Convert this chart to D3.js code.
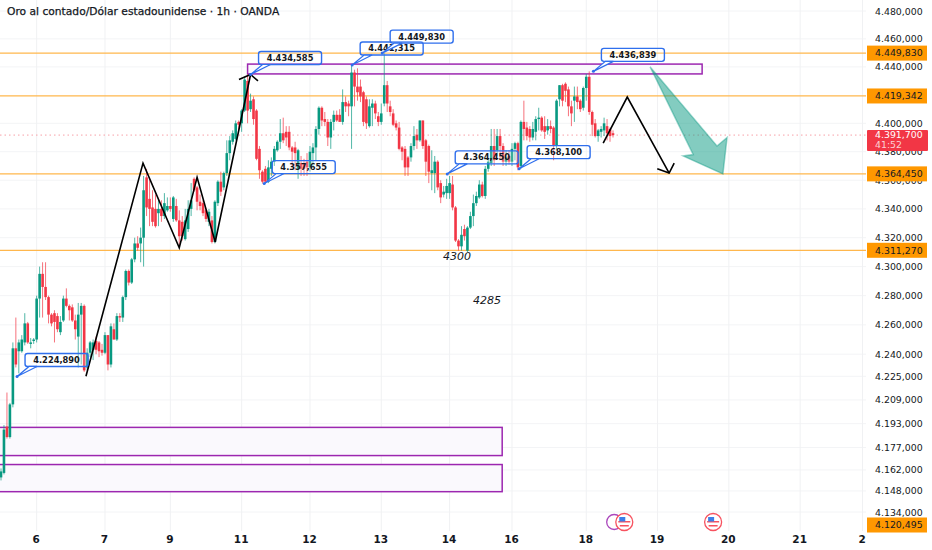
<!DOCTYPE html>
<html>
<head>
<meta charset="utf-8">
<script src="https://cdn.jsdelivr.net/npm/d3@7"></script>
<style>
  html, body { margin: 0; padding: 0; background: #fff; }
  text { font-family: 'DejaVu Sans', sans-serif; fill: #131722; }
</style>
</head>
<body>
<svg id="chart" width="932" height="550"></svg>
<script>
const opens = [
  4157,4160,4191,4184,4206,4244,4242,4242,4248,4261,
  4247,4249,4250,4278,4295,4286,4279,4267,4268,4266,
  4255,4263,4278,4273,4272,4263,4252,4267,4273,4231,
  4241,4243,4249,4248,4243,4241,4253,4233,4257,4250,
  4266,4265,4279,4297,4289,4305,4316,4316,4320,4362,
  4347,4341,4340,4337,4340,4335,4339,4342,4333,4342,
  4332,4331,4319,4326,4340,4361,4355,4345,4344,4339,
  4331,4332,4317,4344,4359,4355,4365,4379,4387,4389,
  4401,4400,4409,4430,4410,4417,4409,4382,4366,4368,
  4359,4368,4373,4381,4387,4393,4394,4394,4383,4383,
  4368,4372,4372,4373,4369,4379,4383,4396,4411,4403,
  4401,4390,4401,4406,4406,4401,4415,4414,4412,4436,
  4426,4426,4422,4417,4398,4411,4414,4405,4401,4414,
  4427,4412,4407,4400,4397,4383,4382,4376,4376,4384,
  4392,4388,4402,4388,4384,4365,4365,4373,4358,4350,
  4351,4351,4357,4341,4318,4314,4326,4311,4327,4335,
  4344,4348,4357,4349,4368,4372,4384,4381,4391,4384,
  4373,4377,4373,4382,4386,4370,4401,4397,4396,4390,
  4394,4403,4404,4398,4395,4398,4397,4384,4417,4427,
  4428,4424,4412,4416,4419,4416,4411,4425,4433,4408,
  4400,4391,4394,4395,4398,4396,4393
];
const highs = [
  4163,4192,4214,4207,4248,4265,4250,4253,4268,4262,
  4251,4251,4280,4300,4303,4303,4280,4268,4270,4268,
  4266,4280,4285,4274,4274,4267,4275,4275,4274,4244,
  4249,4250,4252,4249,4247,4255,4253,4261,4261,4268,
  4268,4280,4298,4298,4306,4320,4321,4327,4363,4368,
  4360,4353,4350,4346,4346,4351,4348,4348,4349,4347,
  4339,4335,4340,4346,4358,4362,4356,4350,4346,4340,
  4340,4335,4346,4360,4366,4366,4388,4391,4395,4402,
  4402,4410,4433,4434.6,4421,4419,4410,4384,4367,4370,
  4374,4376,4384,4388,4403,4404,4398,4398,4384,4387,
  4382,4377,4375,4379,4384,4386,4398,4412,4412,4408,
  4403,4403,4409,4409,4410,4424,4419,4416,4441.3,4438,
  4439,4431,4423,4419,4417,4417,4416,4408,4414,4449.8,
  4430,4416,4410,4402,4401,4384,4384,4377,4386,4398,
  4396,4402,4402,4389,4385,4381,4377,4374,4360,4356,
  4361,4363,4363,4342,4319,4328,4329,4328,4338,4350,
  4352,4360,4359,4370,4375,4396,4396,4396,4396,4386,
  4381,4381,4386,4387,4387,4402,4416,4401,4398,4401,
  4405,4411,4405,4405,4403,4402,4398,4417,4427,4428,
  4429,4426,4416,4426,4426,4417,4426,4435,4436.8,4409,
  4403,4396,4398,4404,4403,4397,4395
];
const lows = [
  4155,4159,4183,4183,4204,4231,4227,4241,4246,4247,
  4244,4247,4248,4265,4265,4277,4261,4259,4248,4255,
  4253,4262,4272,4263,4262,4250,4231,4233,4228,4229,
  4238,4236,4240,4238,4239,4240,4229,4231,4250,4249,
  4262,4262,4277,4287,4288,4303,4311,4303,4300,4335,
  4328,4328,4327,4328,4331,4333,4338,4338,4331,4331,
  4314,4318,4318,4324,4335,4352,4339,4339,4335,4331,
  4328,4316,4316,4342,4349,4353,4363,4374,4385,4388,
  4395,4394,4408,4400,4408,4399,4374,4361,4357.7,4357.7,
  4358,4363,4370,4380,4382,4386,4384,4381,4370,4367,
  4361,4363,4363,4363,4366,4370,4374,4392,4398,4398,
  4384,4382,4395,4401,4401,4399,4408,4405,4382,4412,
  4416,4415,4398,4396,4397,4398,4403,4398,4399,4412,
  4408,4405,4398,4395,4381,4374,4363,4363,4373,4381,
  4382,4387,4382,4363,4358,4353,4351,4353,4344,4348,
  4347,4347,4339,4317,4311,4311,4318,4310,4326,4328,
  4342,4347,4348,4347,4366,4370,4370,4377,4374,4370,
  4370,4371,4370,4374,4367,4368,4388,4388,4387,4388,
  4388,4395,4394,4389,4392,4393,4374,4382,4412,4412,
  4415,4405,4398,4401,4410,4408,4409,4416,4406,4391,
  4390,4387,4390,4391,4388,4387,4390
];
const closes = [
  4161,4189,4184,4206,4244,4233,4248,4250,4261,4248,
  4248,4250,4278,4295,4286,4279,4267,4261,4262,4257,
  4262,4278,4273,4270,4263,4257,4267,4273,4229,4241,
  4248,4248,4243,4242,4241,4253,4233,4259,4250,4266,
  4265,4279,4297,4289,4305,4316,4313,4320,4353,4341,
  4340,4331,4328,4340,4335,4344,4342,4340,4348,4332,
  4321,4321,4332,4340,4346,4353,4345,4342,4337,4333,
  4338,4317,4345,4359,4352,4365,4379,4388,4393,4400,
  4399,4409,4431,4409,4416,4403,4375,4367,4359,4359,
  4369,4373,4382,4387,4393,4388,4390,4383,4380,4379,
  4381,4368,4368,4369,4380,4383,4396,4411,4402,4401,
  4390,4401,4406,4402,4401,4415,4412,4412,4436,4426,
  4422,4419,4401,4400,4412,4414,4407,4401,4407,4427,
  4414,4408,4399,4397,4382,4380,4369,4369,4384,4391,
  4388,4402,4384,4373,4366,4367,4373,4355,4348,4352,
  4356,4358,4341,4318,4314,4322,4321,4327,4335,4344,
  4349,4357,4349,4368,4373,4384,4374,4391,4384,4373,
  4376,4373,4382,4386,4369,4401,4396,4391,4390,4396,
  4403,4404,4395,4394,4398,4396,4384,4416,4427,4416,
  4423,4412,4407,4419,4415,4410,4425,4433,4408,4399,
  4391,4395,4396,4400,4393,4391,4391.7
];

const priceTicks = [4480,4460,4440,4400,4380,4360,4340,4320,4300,4280,4260,4240,4225,4209,4193,4177,4162,4148,4134];
const dayIndexes = [12,35,57,81,104,128,151,172,197,221,245,269,290];
const dayLabels = ['6','7','9','11','12','13','14','16','18','19','20','21','2'];

// orange levels, last one only has its axis tag
const levels = [4449.83,4419.342,4364.45,4311.27];
const levelTags = [4449.83,4419.342,4364.45,4311.27,4120.495];
const lastPrice = 4391.7;
const countdown = '41:52';

// [bar index, price]
const zigzag = [[28.6,4225],[47.8,4372],[60,4313],[66,4362],[72.1,4317],[84,4434.585]];
const zigzagHead = [[80.1,4431],[84,4434.585],[86.5,4430]];
const forecast = [[202.7,4386],[210.8,4418.6],[224.9,4365]];
const forecastHead = [[220.9,4368],[224.9,4365],[226.6,4372]];
const arrowShape = [[218.5,4440],[241,4384],[244.4,4390],[243,4364.45],[229.6,4377],[233,4378]];

// [left index, right index, top price, bottom price]
const zones = [
  [83,236,4442,4435],
  [-3,168.7,4190.5,4171.6],
  [-3,168.7,4165.6,4147.5]
];

const calloutIndexes = [84,118.2,128.3,88.6,150.2,174.4,199.4,5.4];
const calloutPrices = [4434.585,4441.315,4449.83,4357.655,4364.45,4368.1,4436.839,4224.89];

const noteTexts = ['4300','4285'];
const noteIndexes = [153.5,163.6];
const notePrices = [4307,4277];

const eventFlags = [209.8,239.7];
const eventMark = 206.4;

const upColor = '#089981';
const downColor = '#f23645';
const levelColor = '#ffb74d';
const tagColor = '#ff9800';
const zoneColor = '#9c27b0';
const blue = '#2f6fed';

const svg = d3.select('#chart');
const plotRight = 866;
const plotBottom = 531;

const x = d3.scaleLinear().domain([0, 206]).range([1, 613]);
const y = d3.scaleLog().domain([4134, 4480]).range([512, 11]);
const priceFormat = d3.formatLocale({ decimal: ',', thousands: '.', grouping: [3], currency: ['', ''] }).format(',.3f');
const line = d3.line().x(function (d) { return x(d[0]); }).y(function (d) { return y(d[1]); });

setGrid();
setAxes();
setZones();
setLevels();
setCandles();
setDrawings();
setCallouts();
setEvents();
setTags();
setTitle();

function setGrid() {
  svg.append('g').selectAll('line').data(priceTicks).enter().append('line')
    .attr('x1', 0).attr('x2', plotRight)
    .attr('y1', function (d) { return y(d); })
    .attr('y2', function (d) { return y(d); })
    .attr('stroke', '#f3f4f6');
  svg.append('g').selectAll('line').data(dayIndexes).enter().append('line')
    .attr('x1', function (d) { return x(d); })
    .attr('x2', function (d) { return x(d); })
    .attr('y1', 0).attr('y2', plotBottom)
    .attr('stroke', '#f0f1f3');
}

function setAxes() {
  const right = svg.append('g')
    .attr('transform', 'translate(875,0)')
    .call(d3.axisRight(y).tickValues(priceTicks).tickFormat(priceFormat).tickSize(0).tickPadding(0));
  right.select('.domain').remove();
  right.selectAll('text').style('font-size', '9.4px').attr('fill', '#131722');

  const bottom = svg.append('g')
    .attr('transform', 'translate(-1,535)')
    .call(d3.axisBottom(x).tickValues(dayIndexes)
      .tickFormat(function (d, i) { return dayLabels[i]; })
      .tickSize(0).tickPadding(1));
  bottom.select('.domain').remove();
  bottom.selectAll('text').style('font-size', '10.5px').style('font-weight', '600');
}

function setZones() {
  svg.append('g').selectAll('rect').data(zones).enter().append('rect')
    .attr('x', function (d) { return x(d[0]); })
    .attr('width', function (d) { return x(d[1]) - x(d[0]); })
    .attr('y', function (d) { return y(d[2]); })
    .attr('height', function (d) { return y(d[3]) - y(d[2]); })
    .attr('fill', '#faf9fd')
    .attr('stroke', zoneColor)
    .attr('stroke-width', 1.5);
}

function setLevels() {
  svg.append('g').selectAll('line').data(levels).enter().append('line')
    .attr('x1', 0).attr('x2', plotRight)
    .attr('y1', function (d) { return y(d); })
    .attr('y2', function (d) { return y(d); })
    .attr('stroke', levelColor)
    .attr('stroke-width', 1.2);
  svg.append('line')
    .attr('x1', 0).attr('x2', plotRight)
    .attr('y1', y(lastPrice)).attr('y2', y(lastPrice))
    .attr('stroke', '#f7a1a8')
    .attr('stroke-dasharray', '1.5 3');
}

function setCandles() {
  const bars = svg.append('g').selectAll('g').data(opens).enter().append('g');
  const colorOf = function (d, i) { return closes[i] >= d ? upColor : downColor; };
  bars.append('line')
    .attr('x1', function (d, i) { return x(i); })
    .attr('x2', function (d, i) { return x(i); })
    .attr('y1', function (d, i) { return y(highs[i]); })
    .attr('y2', function (d, i) { return y(lows[i]); })
    .attr('stroke', colorOf)
    .attr('stroke-opacity', 0.7);
  bars.append('rect')
    .attr('x', function (d, i) { return x(i) - 1.3; })
    .attr('width', 2.6)
    .attr('y', function (d, i) { return y(Math.max(d, closes[i])); })
    .attr('height', function (d, i) { return Math.max(1, Math.abs(y(d) - y(closes[i]))); })
    .attr('fill', colorOf);
}

function setDrawings() {
  [zigzag, zigzagHead, forecast, forecastHead].forEach(function (pts) {
    svg.append('path')
      .attr('d', line(pts))
      .attr('fill', 'none')
      .attr('stroke', '#000')
      .attr('stroke-width', 1.6);
  });
  svg.append('path')
    .attr('d', line(arrowShape) + 'Z')
    .attr('fill', '#089981')
    .attr('fill-opacity', 0.5)
    .attr('stroke', '#089981')
    .attr('stroke-opacity', 0.4)
    .attr('stroke-width', 1.5);
  svg.append('g').selectAll('text').data(noteTexts).enter().append('text')
    .attr('x', function (d, i) { return x(noteIndexes[i]); })
    .attr('y', function (d, i) { return y(notePrices[i]); })
    .attr('dy', '0.35em')
    .attr('text-anchor', 'middle')
    .style('font-size', '11px')
    .style('font-style', 'italic')
    .text(function (d) { return d; });
}

function setCallouts() {
  const boxW = 63;
  const boxH = 13;
  const boxes = svg.append('g').selectAll('g').data(calloutPrices).enter().append('g')
    .attr('transform', function (d, i) {
      return 'translate(' + x(calloutIndexes[i]) + ',' + y(d) + ')';
    });
  boxes.append('rect')
    .attr('x', 8).attr('y', -10 - boxH)
    .attr('width', boxW).attr('height', boxH)
    .attr('rx', 2.5)
    .attr('fill', '#fff')
    .attr('fill-opacity', 0.2)
    .attr('stroke', blue)
    .attr('stroke-width', 1.4);
  boxes.append('path')
    .attr('d', 'M0,0L12,-10L20,-10Z')
    .attr('fill', '#fff')
    .attr('stroke', blue)
    .attr('stroke-width', 1.2);
  boxes.append('circle').attr('r', 1.5).attr('fill', blue);
  boxes.append('text')
    .attr('x', 8 + boxW / 2).attr('y', -10 - boxH / 2)
    .attr('dy', '0.35em')
    .attr('text-anchor', 'middle')
    .style('font-size', '8.3px')
    .style('font-weight', '600')
    .text(function (d) { return priceFormat(d); });
}

function setEvents() {
  const rowY = 522;
  svg.append('circle')
    .attr('cx', x(eventMark)).attr('cy', rowY).attr('r', 7.5)
    .attr('fill', '#fff').attr('stroke', '#ab47bc').attr('stroke-width', 1.3);
  const flags = svg.append('g').selectAll('g').data(eventFlags).enter().append('g')
    .attr('transform', function (d) { return 'translate(' + x(d) + ',' + rowY + ')'; });
  flags.append('circle').attr('r', 8.5).attr('fill', '#fff').attr('stroke', '#f7525f').attr('stroke-width', 1.3);
  flags.append('rect').attr('x', -6).attr('y', -1).attr('width', 12).attr('height', 1.5).attr('fill', '#f7525f');
  flags.append('rect').attr('x', -4.5).attr('y', 3).attr('width', 9).attr('height', 1.5).attr('fill', '#f7525f');
  flags.append('rect').attr('x', -5).attr('y', -5).attr('width', 6).attr('height', 4.5).attr('fill', '#3d7fe8');
}

function setTags() {
  // the low tag is pushed up off the bottom of the axis, as in the picture
  const tags = svg.append('g').selectAll('g').data(levelTags).enter().append('g')
    .attr('transform', function (d) { return 'translate(867,' + Math.min(y(d), 525) + ')'; });
  tags.append('rect').attr('y', -7.5).attr('width', 60).attr('height', 15).attr('fill', tagColor);
  tags.append('text')
    .attr('x', 8).attr('dy', '0.35em')
    .style('font-size', '9.4px')
    .text(function (d) { return priceFormat(d); });

  const now = svg.append('g').attr('transform', 'translate(867,' + y(lastPrice) + ')');
  now.append('rect').attr('y', -5).attr('width', 61).attr('height', 21).attr('rx', 1).attr('fill', downColor);
  now.append('text')
    .attr('x', 8).attr('dy', '0.3em')
    .style('font-size', '9.4px').style('fill', '#fff')
    .text(priceFormat(lastPrice));
  now.append('text')
    .attr('x', 8).attr('y', 12).attr('dy', '0.1em')
    .style('font-size', '9.4px').style('fill', '#fbd0d4')
    .text(countdown);
}

function setTitle() {
  svg.append('text')
    .attr('x', 7).attr('y', 11)
    .attr('dy', '0.35em')
    .style('font-size', '10.7px')
    .style('stroke', '#131722')
    .style('stroke-width', 0.25)
    .text('Oro al contado/Dólar estadounidense · 1h · OANDA');
}
</script>
</body>
</html>
